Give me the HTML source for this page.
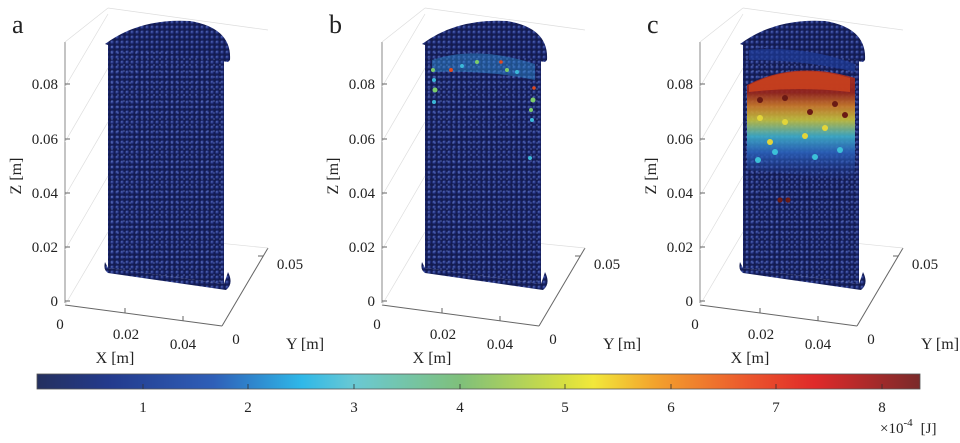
<!DOCTYPE html>
<html><head><meta charset="utf-8"><style>
body{margin:0;background:#fff}
svg{display:block}
text{font-family:"Liberation Serif",serif;fill:#222}
</style></head><body>
<svg width="960" height="443" viewBox="0 0 960 443" xmlns="http://www.w3.org/2000/svg">
<defs>
<radialGradient id="sp" cx="0.35" cy="0.35" r="0.7">
<stop offset="0" stop-color="#5a70c0"/><stop offset="0.45" stop-color="#22307e"/><stop offset="1" stop-color="#10174a"/>
</radialGradient>
<pattern id="dots" width="5" height="5" patternUnits="userSpaceOnUse">
<rect width="5" height="5" fill="#141c50"/>
<circle cx="2.5" cy="2.5" r="2.3" fill="url(#sp)"/>
</pattern>
<pattern id="dots2" width="6" height="6" patternUnits="userSpaceOnUse" patternTransform="translate(1 2)">
<circle cx="3" cy="3" r="0.9" fill="#6f86d6" opacity="0.5"/>
</pattern>
<linearGradient id="cb" x1="0" x2="1">
<stop offset="0" stop-color="#24305f"/><stop offset="0.08" stop-color="#233a8c"/><stop offset="0.2" stop-color="#2f5fb8"/>
<stop offset="0.3" stop-color="#2fb8e8"/><stop offset="0.36" stop-color="#6ac9d3"/><stop offset="0.48" stop-color="#7fc07a"/>
<stop offset="0.6" stop-color="#d8e040"/><stop offset="0.63" stop-color="#f2e83a"/><stop offset="0.7" stop-color="#f3a22c"/>
<stop offset="0.8" stop-color="#ec5a2c"/><stop offset="0.88" stop-color="#e02a2a"/><stop offset="1" stop-color="#7a2a2a"/>
</linearGradient>
<linearGradient id="heatc" x1="0" y1="0" x2="0" y2="1">
<stop offset="0" stop-color="#b8301c"/><stop offset="0.2" stop-color="#9a2418"/><stop offset="0.32" stop-color="#d07a26"/>
<stop offset="0.45" stop-color="#c9c43a"/><stop offset="0.6" stop-color="#3fb0c8"/><stop offset="0.75" stop-color="#2a60b8"/><stop offset="1" stop-color="#22409a" stop-opacity="0"/>
</linearGradient>
<g id="axes">
<line x1="65" y1="42" x2="65" y2="303" stroke="#888" stroke-width="1"/>
<line x1="65" y1="305" x2="222" y2="326" stroke="#666" stroke-width="1"/>
<line x1="222" y1="326" x2="268" y2="248" stroke="#666" stroke-width="1"/>
<g stroke="#ddd" stroke-width="0.7" fill="none">
<line x1="65" y1="42" x2="108" y2="8"/><line x1="108" y1="8" x2="268" y2="30"/>
<line x1="65" y1="305" x2="108" y2="232"/><line x1="108" y1="232" x2="268" y2="248"/>
<line x1="65" y1="250" x2="108" y2="176"/><line x1="65" y1="196" x2="108" y2="122"/>
<line x1="65" y1="142" x2="108" y2="68"/><line x1="65" y1="87" x2="108" y2="14"/>
</g>
<g stroke="#666"><line x1="65" y1="84" x2="70" y2="84"/><line x1="65" y1="139" x2="70" y2="139"/><line x1="65" y1="193" x2="70" y2="193"/><line x1="65" y1="247" x2="70" y2="247"/><line x1="65" y1="301" x2="70" y2="301"/>
<line x1="125" y1="313" x2="125" y2="308"/><line x1="183" y1="321" x2="183" y2="316"/><line x1="263" y1="256" x2="258" y2="256"/></g>
<g font-size="15" text-anchor="end"><text x="58" y="89">0.08</text><text x="58" y="144">0.06</text><text x="58" y="198">0.04</text><text x="58" y="252">0.02</text><text x="58" y="306">0</text></g>
<text transform="translate(21 176) rotate(-90)" font-size="16" text-anchor="middle">Z [m]</text>
<g font-size="15" text-anchor="middle"><text x="60" y="329">0</text><text x="126" y="339">0.02</text><text x="183" y="349">0.04</text><text x="236" y="344">0</text><text x="290" y="269">0.05</text></g>
<text x="115" y="363" font-size="16" text-anchor="middle">X [m]</text>
<text x="305" y="349" font-size="16" text-anchor="middle">Y [m]</text>
</g>
<path id="cap" d="M105,44 Q140,18 190,21 Q232,28 230,60 L228,62 Q200,58 108,45 Z"/>
<path id="face" d="M108,44 L224,60 L224,284 L108,268 Z"/>
<path id="bot" d="M105,262 L108,268 L224,284 L228,272 Q234,284 226,290 L108,273 Q103,270 105,262 Z"/>
</defs>

<!-- panel a -->
<g>
<use href="#axes"/>
<use href="#cap" fill="url(#dots)"/>
<use href="#face" fill="url(#dots)"/>
<use href="#face" fill="url(#dots2)"/>
<use href="#bot" fill="url(#dots)"/>
<text x="12" y="33" font-size="26">a</text>
</g>

<!-- panel b -->
<g transform="translate(317 0)">
<use href="#axes"/>
<use href="#cap" fill="url(#dots)"/>
<use href="#face" fill="url(#dots)"/>
<use href="#face" fill="url(#dots2)"/>
<use href="#bot" fill="url(#dots)"/>
<path d="M115,60 Q160,45 218,64 L218,80 Q170,70 115,72 Z" fill="#2f8ed0" opacity="0.45"/>
<g fill="#7ccd6a"><circle cx="116" cy="70" r="2"/><circle cx="118" cy="90" r="2.5"/><circle cx="216" cy="100" r="2.5"/><circle cx="214" cy="110" r="2"/><circle cx="160" cy="62" r="2"/><circle cx="190" cy="70" r="2"/></g>
<g fill="#e04a20"><circle cx="134" cy="70" r="2"/><circle cx="217" cy="88" r="1.8"/><circle cx="184" cy="62" r="1.8"/></g>
<g fill="#3bb8d8"><circle cx="117" cy="80" r="2"/><circle cx="117" cy="102" r="2"/><circle cx="215" cy="120" r="2"/><circle cx="213" cy="158" r="2"/><circle cx="145" cy="66" r="2"/><circle cx="200" cy="72" r="2"/></g>
<text x="12" y="33" font-size="26">b</text>
</g>

<!-- panel c -->
<g transform="translate(635 0)">
<use href="#axes"/>
<use href="#cap" fill="url(#dots)"/>
<use href="#face" fill="url(#dots)"/>
<use href="#face" fill="url(#dots2)"/>
<use href="#bot" fill="url(#dots)"/>
<path d="M114,50 Q170,45 220,64 L220,72 Q170,60 114,60 Z" fill="#1e3a96" opacity="0.7"/>
<path d="M112,85 Q160,60 220,78 L220,180 L112,170 Z" fill="url(#heatc)" opacity="0.9"/>
<path d="M114,85 Q160,62 215,78 L215,92 Q165,86 114,92 Z" fill="#c8401e" opacity="0.9"/>
<g fill="#6a1a14"><circle cx="125" cy="100" r="3"/><circle cx="150" cy="98" r="3"/><circle cx="200" cy="104" r="3"/><circle cx="175" cy="112" r="3"/><circle cx="145" cy="200" r="2.6"/><circle cx="153" cy="200" r="2.6"/><circle cx="210" cy="115" r="3"/></g>
<g fill="#e3d53a"><circle cx="125" cy="118" r="3"/><circle cx="150" cy="122" r="3"/><circle cx="190" cy="128" r="3"/><circle cx="170" cy="136" r="3"/><circle cx="135" cy="142" r="3"/></g>
<g fill="#3cc0d8"><circle cx="140" cy="152" r="3"/><circle cx="180" cy="157" r="3"/><circle cx="123" cy="160" r="3"/><circle cx="205" cy="150" r="3"/></g>
<text x="12" y="33" font-size="26">c</text>
</g>

<!-- colorbar -->
<rect x="37" y="374" width="883" height="15" fill="url(#cb)" stroke="#555" stroke-width="0.8"/>
<g stroke="#333" stroke-width="0.8">
<line x1="143" y1="384" x2="143" y2="389"/><line x1="248" y1="384" x2="248" y2="389"/><line x1="354" y1="384" x2="354" y2="389"/><line x1="460" y1="384" x2="460" y2="389"/><line x1="565" y1="384" x2="565" y2="389"/><line x1="671" y1="384" x2="671" y2="389"/><line x1="776" y1="384" x2="776" y2="389"/><line x1="882" y1="384" x2="882" y2="389"/>
</g>
<g font-size="15" text-anchor="middle"><text x="143" y="412">1</text><text x="248" y="412">2</text><text x="354" y="412">3</text><text x="460" y="412">4</text><text x="565" y="412">5</text><text x="671" y="412">6</text><text x="776" y="412">7</text><text x="882" y="412">8</text></g>
<text x="880" y="433" font-size="15">×10<tspan dy="-7" font-size="11">-4</tspan><tspan dy="7" dx="8">[J]</tspan></text>
</svg>
</body></html>
